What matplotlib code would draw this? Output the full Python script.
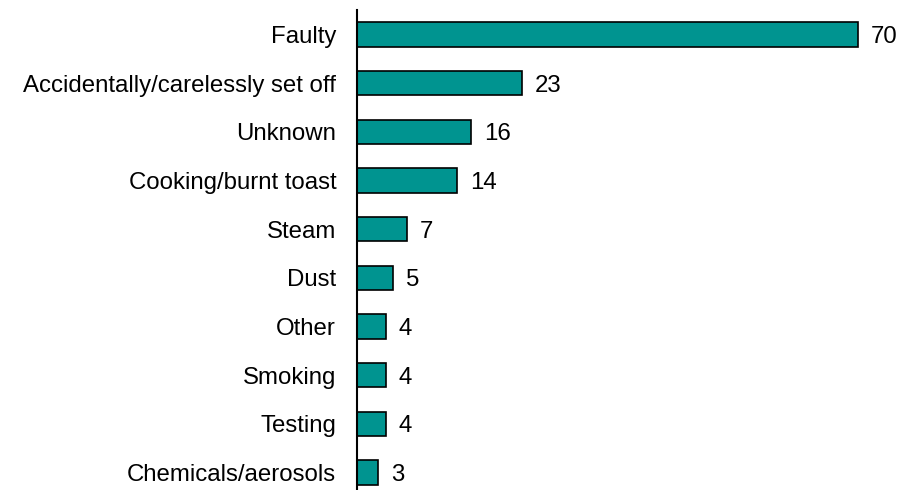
import matplotlib
matplotlib.use('Agg')
import matplotlib.pyplot as plt

categories = ['Faulty', 'Accidentally/carelessly set off', 'Unknown', 'Cooking/burnt toast',
              'Steam', 'Dust', 'Other', 'Smoking', 'Testing', 'Chemicals/aerosols']
values = [70, 23, 16, 14, 7, 5, 4, 4, 4, 3]

plt.rcParams['font.family'] = ['Liberation Sans', 'DejaVu Sans']

fig = plt.figure(figsize=(9.19, 4.90), dpi=100)
ax = fig.add_axes([357 / 919, 0.0, 558 / 919, 480 / 490])

pos = list(range(len(categories)))
bars = ax.barh(pos, values, height=0.5, color='#009490', edgecolor='black', linewidth=1.2)

for b, v in zip(bars, values):
    ax.text(b.get_width() + 1.8, b.get_y() + b.get_height() / 2, str(v),
            va='center_baseline', ha='left', fontsize=17.3)

ax.set_yticks(pos)
ax.set_yticklabels(categories, fontsize=17.3)
ax.set_ylim(9.36, -0.5)
ax.set_xlim(0, 78)
ax.tick_params(axis='y', length=0, pad=15)
ax.set_xticks([])
for s in ['top', 'right', 'bottom']:
    ax.spines[s].set_visible(False)
ax.spines['left'].set_linewidth(1.5)

fig.savefig('out.png', dpi=100)
